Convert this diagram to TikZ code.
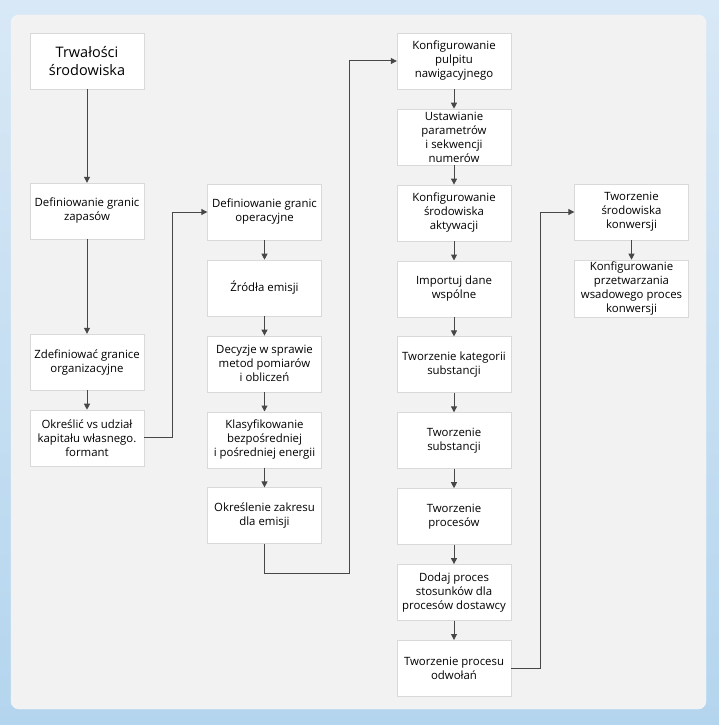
\documentclass[tikz,border=0pt]{standalone}
\usepackage{fontspec}
\setmainfont{Open Sans}
\usetikzlibrary{positioning}
\usetikzlibrary{arrows.meta}
\definecolor{panelgray}{HTML}{F2F2F2}
\definecolor{boxline}{HTML}{D9D9D9}
\definecolor{linkgray}{HTML}{474747}
\definecolor{bgtop}{HTML}{D8E8F6}
\definecolor{bgbot}{HTML}{B4D5EE}
\begin{document}
\begin{tikzpicture}[x=1pt,y=-1pt,node distance=19.5pt,
  box/.style={draw=boxline,fill=white,minimum width=114pt,minimum height=56pt,inner sep=2pt,align=center,font=\fontsize{11.4}{14}\selectfont},
  arr/.style={draw=linkgray,line width=1pt,-{Triangle[length=6pt,width=6pt]}}]
  \useasboundingbox (0,0) rectangle (719,725);
  \shade[top color=bgtop,bottom color=bgbot] (0,0) rectangle (719,725);
  \filldraw[fill=panelgray,draw=white!50!panelgray,rounded corners=8pt] (11,15) rectangle (706,709);

  % first column
  \node[box,font=\fontsize{14.5}{18}\selectfont] (a1) at (87,61) {Trwałości\\środowiska};
  \node[box] (a2) at (87,211) {Definiowanie granic\\zapasów};
  \node[box] (a3) at (87,362) {Zdefiniować granice\\organizacyjne};
  \node[box,below=of a3] (a4) {Określić vs udział\\kapitału własnego.\\formant};

  % second column
  \node[box] (b1) at (264.5,212) {Definiowanie granic\\operacyjne};
  \node[box,below=of b1] (b2) {Źródła emisji};
  \node[box,below=of b2] (b3) {Decyzje w sprawie\\metod pomiarów\\i obliczeń};
  \node[box,below=of b3] (b4) {Klasyfikowanie\\bezpośredniej\\i pośredniej energii};
  \node[box,below=of b4] (b5) {Określenie zakresu\\dla emisji};

  % third column
  \node[box] (c1) at (454,61) {Konfigurowanie\\pulpitu\\nawigacyjnego};
  \node[box,below=of c1] (c2) {Ustawianie\\parametrów\\i sekwencji\\numerów};
  \node[box,below=of c2] (c3) {Konfigurowanie\\środowiska\\aktywacji};
  \node[box,below=of c3] (c4) {Importuj dane\\wspólne};
  \node[box,below=of c4] (c5) {Tworzenie kategorii\\substancji};
  \node[box,below=of c5] (c6) {Tworzenie\\substancji};
  \node[box,below=of c6] (c7) {Tworzenie\\procesów};
  \node[box,below=of c7] (c8) {Dodaj proces\\stosunków dla\\procesów dostawcy};
  \node[box,below=of c8] (c9) {Tworzenie procesu\\odwołań};

  % fourth column
  \node[box] (d1) at (631.5,212) {Tworzenie\\środowiska\\konwersji};
  \node[box,below=of d1] (d2) {Konfigurowanie\\przetwarzania\\wsadowego proces\\konwersji};

  \draw[arr](a1)--(a2);
  \draw[arr](a2)--(a3);
  \draw[arr](a3)--(a4);
  \draw[arr](a4.east)--++(28,0)|-(b1.west);
  \draw[arr](b1)--(b2);
  \draw[arr](b2)--(b3);
  \draw[arr](b3)--(b4);
  \draw[arr](b4)--(b5);
  \draw[arr](b5.south)--++(0,30)--++(85,0)|-(c1.west);
  \draw[arr](c1)--(c2);
  \draw[arr](c2)--(c3);
  \draw[arr](c3)--(c4);
  \draw[arr](c4)--(c5);
  \draw[arr](c5)--(c6);
  \draw[arr](c6)--(c7);
  \draw[arr](c7)--(c8);
  \draw[arr](c8)--(c9);
  \draw[arr](c9.east)--++(29,0)|-(d1.west);
  \draw[arr](d1)--(d2);
\end{tikzpicture}
\end{document}
